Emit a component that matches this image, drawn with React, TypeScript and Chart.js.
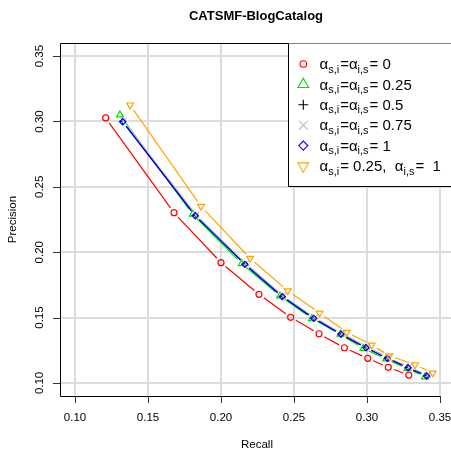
import React, { useEffect, useRef } from 'react';
import { Chart, registerables } from 'chart.js';
import { drawPoint } from 'chart.js/helpers';

Chart.register(...registerables);

const chartTitle = 'CATSMF-BlogCatalog';
const xTitle = 'Recall';
const yTitle = 'Precision';
const tickValues = [0.1, 0.15, 0.2, 0.25, 0.3, 0.35];
const tickLabels = ['0.10', '0.15', '0.20', '0.25', '0.30', '0.35'];

// alpha_s,i = alpha_i,s = 0
const recall0 = [0.121, 0.1678, 0.2, 0.226, 0.2477, 0.2671, 0.2845, 0.3005, 0.3146, 0.3286];
const precision0 = [0.3027, 0.2302, 0.192, 0.1678, 0.1502, 0.1376, 0.1269, 0.1188, 0.1119, 0.106];
// 0.25
const recall025 = [0.1308, 0.1806, 0.2142, 0.2404, 0.2623, 0.2818, 0.2975, 0.313, 0.3277, 0.3397];
const precision025 = [0.305, 0.229, 0.1912, 0.1665, 0.1494, 0.1372, 0.1264, 0.1183, 0.111, 0.1046];
// 0.5
const recall05 = [0.1325, 0.1822, 0.2162, 0.2419, 0.2633, 0.2821, 0.2992, 0.3138, 0.328, 0.3407];
const precision05 = [0.3, 0.2281, 0.1909, 0.1662, 0.1496, 0.1374, 0.1271, 0.119, 0.1118, 0.1055];
// 0.75
const recall075 = [0.1332, 0.183, 0.217, 0.2426, 0.2641, 0.2829, 0.3, 0.3146, 0.3288, 0.3416];
const precision075 = [0.3004, 0.2285, 0.1913, 0.1666, 0.15, 0.1378, 0.1275, 0.1194, 0.1122, 0.1059];
// 1
const recall1 = [0.1327, 0.1824, 0.2164, 0.242, 0.2635, 0.2822, 0.2993, 0.3139, 0.3281, 0.3409];
const precision1 = [0.2998, 0.2279, 0.1907, 0.166, 0.1494, 0.1372, 0.1269, 0.1188, 0.1116, 0.1053];
// alpha_s,i = 0.25, alpha_i,s = 1
const recallMix = [0.1377, 0.1863, 0.2199, 0.2457, 0.2675, 0.2861, 0.3032, 0.3153, 0.3329, 0.345];
const precisionMix = [0.3126, 0.2351, 0.1953, 0.1705, 0.1535, 0.1387, 0.129, 0.1208, 0.1139, 0.1076];

const seriesColors = ['#FF0000', '#00DD00', '#000000', '#BEBEBE', '#0000FF', '#FFA500'];
const seriesStyles = ['circle', 'triangle', 'cross', 'crossRot', 'rectRot', 'triangle'];
const seriesRotations = [0, 0, 0, 0, 0, 180];
const plotRadii = [3, 3.9, 3.2, 4.2, 3.1, 3.9];
const legendRadii = [3.3, 6.2, 5, 6.1, 4.5, 6.2];
const drawOrder = [6, 5, 4, 3, 2, 1];

// legend label pieces: [text, isSubscript]
const legendLabels: [string, boolean][][] = [
  [['α', false], ['s,i', true], ['=α', false], ['i,s', true], ['= 0', false]],
  [['α', false], ['s,i', true], ['=α', false], ['i,s', true], ['= 0.25', false]],
  [['α', false], ['s,i', true], ['=α', false], ['i,s', true], ['= 0.5', false]],
  [['α', false], ['s,i', true], ['=α', false], ['i,s', true], ['= 0.75', false]],
  [['α', false], ['s,i', true], ['=α', false], ['i,s', true], ['= 1', false]],
  [['α', false], ['s,i', true], ['= 0.25,  α', false], ['i,s', true], ['=  1', false]],
];

const recallSeries = [recall0, recall025, recall05, recall075, recall1, recallMix];
const precisionSeries = [precision0, precision025, precision05, precision075, precision1, precisionMix];

const FONT = '"Liberation Sans", Arial, Helvetica, sans-serif';

const decorPlugin = {
  id: 'decor',
  beforeDatasetDraw(chart: any, args: any) {
    const ctx = chart.ctx;
    const ds = chart.data.datasets[args.index];
    const pts = args.meta.data;
    const gap = 6;
    const a = chart.chartArea;
    ctx.save();
    ctx.beginPath();
    ctx.rect(a.left, a.top, a.right - a.left, a.bottom - a.top);
    ctx.clip();
    ctx.strokeStyle = ds.pointBorderColor;
    ctx.lineWidth = 1.2;
    ctx.beginPath();
    for (let i = 0; i < pts.length - 1; i++) {
      const p = pts[i];
      const q = pts[i + 1];
      const dx = q.x - p.x;
      const dy = q.y - p.y;
      const len = Math.hypot(dx, dy);
      if (len <= 2 * gap) continue;
      const ux = dx / len;
      const uy = dy / len;
      ctx.moveTo(p.x + ux * gap, p.y + uy * gap);
      ctx.lineTo(q.x - ux * gap, q.y - uy * gap);
    }
    ctx.stroke();
    ctx.restore();
  },
  afterDraw(chart: any) {
    const ctx = chart.ctx;
    const a = chart.chartArea;
    const xs = chart.scales.x;
    const ys = chart.scales.y;
    ctx.save();
    ctx.strokeStyle = '#000';
    ctx.lineWidth = 1;
    // frame / axes
    ctx.beginPath();
    ctx.moveTo(a.right + 2, a.top + 0.5);
    ctx.lineTo(a.left + 0.5, a.top + 0.5);
    ctx.lineTo(a.left + 0.5, a.bottom + 0.5);
    ctx.lineTo(xs.getPixelForValue(tickValues[tickValues.length - 1]), a.bottom + 0.5);
    ctx.stroke();
    // tick marks
    ctx.strokeStyle = '#333';
    ctx.beginPath();
    tickValues.forEach((v) => {
      const px = Math.round(xs.getPixelForValue(v)) + 0.5;
      ctx.moveTo(px, a.bottom);
      ctx.lineTo(px, a.bottom + 7);
      const py = Math.round(ys.getPixelForValue(v)) + 0.5;
      ctx.moveTo(a.left, py);
      ctx.lineTo(a.left - 7, py);
    });
    ctx.stroke();
    // tick labels
    ctx.fillStyle = '#000';
    ctx.font = `11.5px ${FONT}`;
    ctx.textAlign = 'center';
    ctx.textBaseline = 'middle';
    tickValues.forEach((v, i) => {
      ctx.fillText(tickLabels[i], xs.getPixelForValue(v), 418);
      ctx.save();
      ctx.translate(40, ys.getPixelForValue(v));
      ctx.rotate(-Math.PI / 2);
      ctx.fillText(tickLabels[i], 0, 0);
      ctx.restore();
    });
    // axis titles
    ctx.font = `11.5px ${FONT}`;
    ctx.fillText(xTitle, 257, 445);
    ctx.save();
    ctx.translate(13, (a.top + a.bottom) / 2);
    ctx.rotate(-Math.PI / 2);
    ctx.fillText(yTitle, 0, 0);
    ctx.restore();
    // title
    ctx.font = `bold 13px ${FONT}`;
    ctx.fillText(chartTitle, 256, 16);

    // legend
    const lx = 288;
    const ly = a.top + 0.5;
    const lb = 186;
    ctx.fillStyle = '#fff';
    ctx.fillRect(lx, ly, 200, lb - ly);
    ctx.strokeStyle = '#000';
    ctx.lineWidth = 1;
    ctx.beginPath();
    ctx.moveTo(lx + 0.5, ly);
    ctx.lineTo(lx + 0.5, lb + 0.5);
    ctx.lineTo(500, lb + 0.5);
    ctx.stroke();
    legendLabels.forEach((parts, i) => {
      const cy = 64 + i * 20.4;
      ctx.strokeStyle = seriesColors[i];
      ctx.fillStyle = 'rgba(0,0,0,0)';
      ctx.lineWidth = 1.1;
      drawPoint(ctx, {
        pointStyle: seriesStyles[i],
        radius: legendRadii[i],
        rotation: seriesRotations[i],
        borderWidth: 1.1,
      }, 303.3, cy);
      let tx = 319.5;
      ctx.fillStyle = '#000';
      ctx.textAlign = 'left';
      ctx.textBaseline = 'alphabetic';
      parts.forEach(([t, sub]) => {
        if (sub) {
          ctx.font = `11px ${FONT}`;
          ctx.fillText(t, tx, cy + 8.5);
        } else {
          ctx.font = `15px ${FONT}`;
          ctx.fillText(t, tx, cy + 5.2);
        }
        tx += ctx.measureText(t).width + (sub ? 1 : 0);
      });
    });
    ctx.restore();
  },
};

export default function App() {
  const ref = useRef<HTMLCanvasElement | null>(null);
  useEffect(() => {
    if (!ref.current) return;
    const datasets = recallSeries.map((xsv, i) => ({
      label: 'series' + i,
      data: xsv.map((x, j) => ({ x, y: precisionSeries[i][j] })),
      showLine: false,
      pointStyle: seriesStyles[i],
      pointRotation: seriesRotations[i],
      radius: plotRadii[i],
      pointRadius: plotRadii[i],
      pointHoverRadius: plotRadii[i],
      pointBorderColor: seriesColors[i],
      pointBackgroundColor: 'rgba(0,0,0,0)',
      pointBorderWidth: 1.2,
      borderColor: seriesColors[i],
      order: drawOrder[i],
    }));
    const chart = new Chart(ref.current, {
      type: 'scatter',
      data: { datasets },
      options: {
        animation: false,
        responsive: false,
        devicePixelRatio: 1,
        layout: { padding: { top: 43, left: 0, right: 0, bottom: 0 }, autoPadding: false },
        plugins: { legend: { display: false }, title: { display: false }, tooltip: { enabled: false } },
        events: [],
        scales: {
          x: {
            type: 'linear',
            min: 0.08973,
            max: 0.35753,
            border: { display: false },
            grid: { color: '#dcdcdc', lineWidth: 2, drawTicks: false },
            ticks: { display: false },
            afterBuildTicks: (s: any) => {
              s.ticks = tickValues.map((v) => ({ value: v }));
            },
            afterFit: (s: any) => {
              s.height = 56;
            },
          },
          y: {
            type: 'linear',
            min: 0.09,
            max: 0.36,
            border: { display: false },
            grid: { color: '#dcdcdc', lineWidth: 2, drawTicks: false },
            ticks: { display: false },
            afterBuildTicks: (s: any) => {
              s.ticks = tickValues.map((v) => ({ value: v }));
            },
            afterFit: (s: any) => {
              s.width = 60;
            },
          },
        },
      },
      plugins: [decorPlugin],
    });
    return () => chart.destroy();
  }, []);
  return (
    <div style={{ position: 'absolute', left: 0, top: 0, width: 451, height: 452, overflow: 'hidden', background: '#fff' }}>
      <canvas ref={ref} width={451} height={452} style={{ display: 'block' }} />
    </div>
  );
}
